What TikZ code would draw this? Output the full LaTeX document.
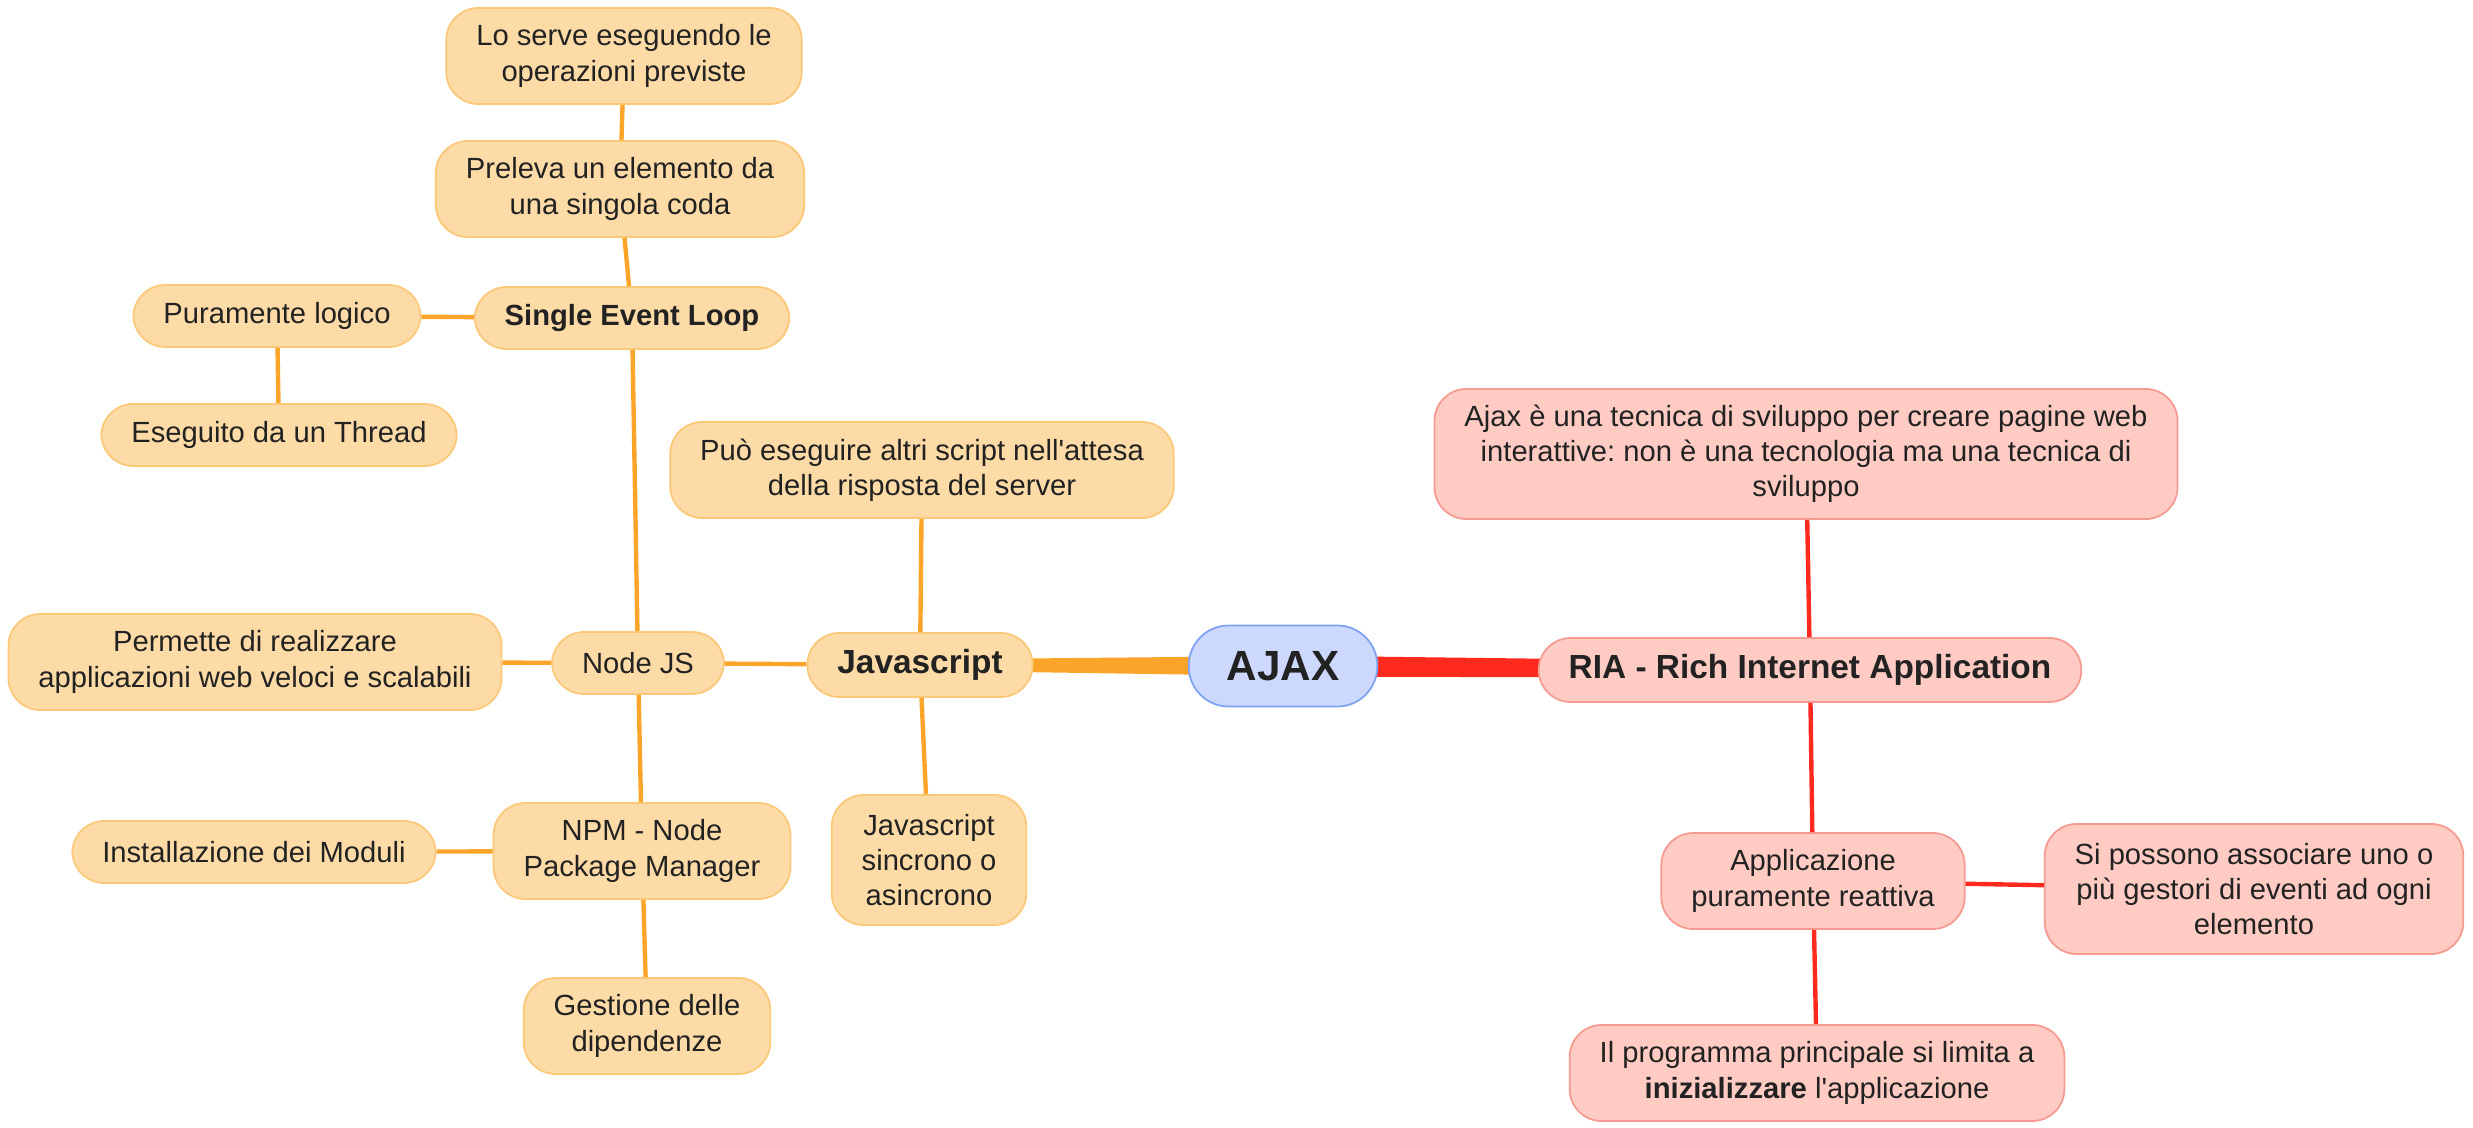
\documentclass[tikz,border=0pt]{standalone}
\usepackage{fontspec}
\setmainfont{Liberation Sans}[Ligatures=TeXOff]
\frenchspacing
\usetikzlibrary{positioning, backgrounds, calc}
\definecolor{ajaxText}{HTML}{222222}
\definecolor{ajaxBlueFill}{HTML}{CCD8FD}
\definecolor{ajaxBlueLine}{HTML}{7EA2F2}
\definecolor{ajaxOrangeFill}{HTML}{FDDBA7}
\definecolor{ajaxOrangeLine}{HTML}{FBC878}
\definecolor{ajaxOrange}{HTML}{FAA52A}
\definecolor{ajaxRedFill}{HTML}{FFCBC2}
\definecolor{ajaxRedLine}{HTML}{F59A90}
\definecolor{ajaxRed}{HTML}{FF2A1E}

\begin{document}
\begin{tikzpicture}[
    x=0.01cm, y=-0.01cm,
    every node/.style={font=\fontsize{8.3}{10}\selectfont, text=ajaxText, align=center},
    topic/.style={rectangle, rounded corners=0.32cm, inner xsep=0.3cm, inner ysep=0pt, minimum height=0.62cm, line width=0.5pt},
    orangetopic/.style={topic, draw=ajaxOrangeLine, fill=ajaxOrangeFill},
    redtopic/.style={topic, draw=ajaxRedLine, fill=ajaxRedFill},
    maintopic/.style={font=\fontsize{9.5}{11}\selectfont\bfseries, minimum height=0.64cm},
    twolines/.style={minimum height=0.96cm},
    threelines/.style={minimum height=1.30cm},
    orangelink/.style={draw=ajaxOrange, line width=1.25pt},
    redlink/.style={draw=ajaxRed, line width=1.25pt}
]
\useasboundingbox (0,0) rectangle (2473,1128);

% ============================
% Centre
% ============================
\node[topic, draw=ajaxBlueLine, fill=ajaxBlueFill, rounded corners=0.4cm, inner xsep=0.38cm,
      minimum height=0.81cm, font=\fontsize{12}{14}\selectfont\bfseries] (ajax) at (1283, 666) {AJAX};

% ============================
% Left branch: Javascript
% ============================
\node[orangetopic, maintopic] (js) at (920, 665) {Javascript};
\node[orangetopic, twolines] (puo) at (922, 470) {Può eseguire altri script nell'attesa\\della risposta del server};
\node[orangetopic, threelines] (sincrono) at (929, 860) {Javascript\\sincrono o\\asincrono};

% Node JS
\node[orangetopic] (nodejs) at (638, 663) {Node JS};
\node[orangetopic, twolines] (permette) at (255, 662) {Permette di realizzare\\applicazioni web veloci e scalabili};

% Single Event Loop
\node[orangetopic, font=\fontsize{8.3}{10}\selectfont\bfseries] (loop) at (632, 318) {Single Event Loop};
\node[orangetopic, twolines] (preleva) at (620, 189) {Preleva un elemento da\\una singola coda};
\node[orangetopic, twolines] (serve) at (624, 56) {Lo serve eseguendo le\\operazioni previste};
\node[orangetopic] (logico) at (277, 316) {Puramente logico};
\node[orangetopic] (thread) at (279, 435) {Eseguito da un Thread};

% NPM
\node[orangetopic, twolines] (npm) at (642, 851) {NPM - Node\\Package Manager};
\node[orangetopic] (moduli) at (254, 852) {Installazione dei Moduli};
\node[orangetopic, twolines] (dipendenze) at (647, 1026) {Gestione delle\\dipendenze};

% ============================
% Right branch: RIA
% ============================
\node[redtopic, maintopic] (ria) at (1810, 670) {RIA - Rich Internet Application};
\node[redtopic, threelines] (tecnica) at (1806, 454) {Ajax è una tecnica di sviluppo per creare pagine web\\interattive: non è una tecnologia ma una tecnica di\\sviluppo};
\node[redtopic, twolines] (reattiva) at (1813, 881) {Applicazione\\puramente reattiva};
\node[redtopic, threelines] (gestori) at (2254, 889) {Si possono associare uno o\\più gestori di eventi ad ogni\\elemento};
\node[redtopic, twolines] (principale) at (1817, 1073) {Il programma principale si limita a\\\textbf{inizializzare} l'applicazione};

% ============================
% Connectors
% ============================
\begin{scope}[on background layer]
\fill[ajaxOrange] ($(js.center)+(0,-5.5)$) -- ($(ajax.center)+(0,-10)$) -- ($(ajax.center)+(0,10)$) -- ($(js.center)+(0,5.5)$) -- cycle;
\fill[ajaxRed] ($(ajax.center)+(0,-10.5)$) -- ($(ria.center)+(0,-8)$) -- ($(ria.center)+(0,8)$) -- ($(ajax.center)+(0,10.5)$) -- cycle;
\end{scope}

\draw[orangelink] (js) -- (puo);
\draw[orangelink] (js) -- (sincrono);
\draw[orangelink] (js) -- (nodejs);
\draw[orangelink] (nodejs) -- (permette);
\draw[orangelink] (nodejs) -- (loop);
\draw[orangelink] (nodejs) -- (npm);
\draw[orangelink] (loop) -- (preleva);
\draw[orangelink] (preleva) -- (serve);
\draw[orangelink] (loop) -- (logico);
\draw[orangelink] (logico) -- (thread);
\draw[orangelink] (npm) -- (moduli);
\draw[orangelink] (npm) -- (dipendenze);

\draw[redlink] (ria) -- (tecnica);
\draw[redlink] (ria) -- (reattiva);
\draw[redlink] (reattiva) -- (gestori);
\draw[redlink] (reattiva) -- (principale);

\end{tikzpicture}
\end{document}
